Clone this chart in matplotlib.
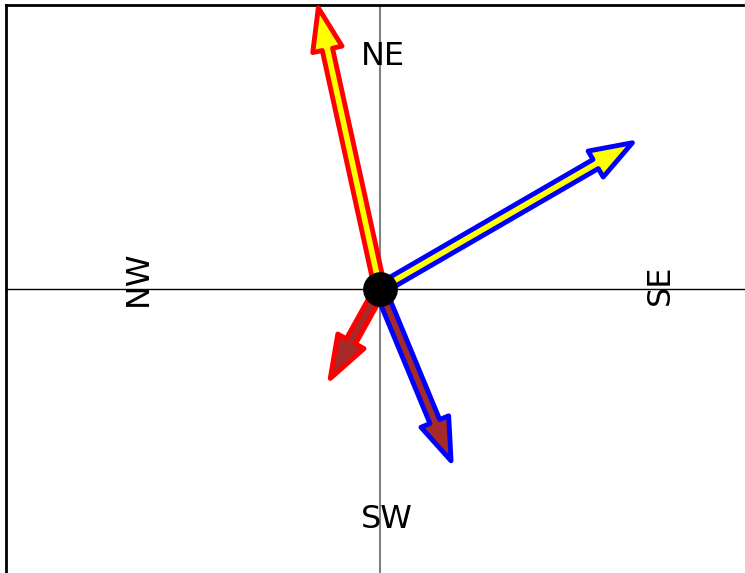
import matplotlib
matplotlib.use("Agg")
import matplotlib.pyplot as plt

# arrow end points (data units, from origin)
arrow_u = [-0.165, 0.675, -0.133, 0.19]
arrow_v = [0.99, 0.515, -0.315, -0.605]
arrow_face = ["yellow", "yellow", "brown", "brown"]
arrow_edge = ["red", "blue", "red", "blue"]

labels = ["NE", "SW", "NW", "SE"]
label_x = [0.008, 0.019, -0.647, 0.749]
label_y = [0.817, -0.813, 0.039, 0.014]
label_rot = [0, 0, 90, 90]

fig = plt.figure(figsize=(7.45, 5.73), dpi=100)
ax = fig.add_axes([6 / 745, 0.0, 2 * 374 / 745, 1 - 5 / 573])
ax.set_xlim(-1, 1)
ax.set_ylim(-1, 1)
ax.set_xticks([])
ax.set_yticks([])
for s in ["right", "bottom"]:
    ax.spines[s].set_visible(False)
for s in ["left", "top"]:
    ax.spines[s].set_linewidth(2)

ax.axhline(0, color="black", lw=1, zorder=1)
ax.axvline(0, color="gray", lw=1.5, zorder=1)

for u, v, fc, ec in zip(arrow_u, arrow_v, arrow_face, arrow_edge):
    ax.annotate("", xy=(u, v), xytext=(0, 0),
                arrowprops=dict(arrowstyle="simple,head_length=1.7,head_width=1.2,tail_width=0.42",
                                fc=fc, ec=ec, lw=3.5, shrinkA=0, shrinkB=0,
                                mutation_scale=18), zorder=3)

ax.plot([0], [0], "o", color="black", ms=24, zorder=5)

for t, x, y, r in zip(labels, label_x, label_y, label_rot):
    ax.text(x, y, t, rotation=r, ha="center", va="center", fontsize=23)

fig.savefig("out.png", dpi=100)
